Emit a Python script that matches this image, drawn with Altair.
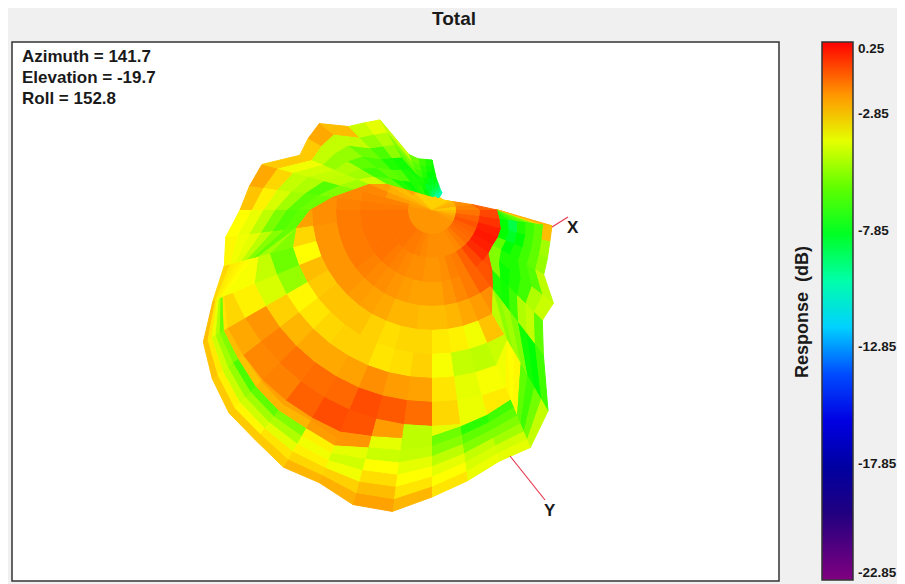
import math
import altair as alt

FONT = "Liberation Sans"
DB_DOMAIN = [-22.85, -19.0, -15.15, -11.3, -7.45, -3.6, 0.25]
COLOR_RANGE = ["#800080", "#000080", "#0000ff", "#00ffff", "#00ff00", "#ffff00", "#ff0000"]
LEGEND_TICKS = [0.25, -2.85, -7.85, -12.85, -17.85, -22.85]

POLE = (432, 210)
ANGLE_STEP = 7.5
RING_STEP = 24

# outer silhouette radius per 7.5 degree direction, clockwise from +x
OUTLINE = [66, 121, 122, 125, 129, 153, 156, 183, 232, 257, 260, 273, 287, 304, 305, 295,
           297, 290, 287, 277, 264, 237, 215, 208, 192, 184, 176, 143, 143, 142, 118, 110,
           104, 60, 53, 51, 50, 32, 26, 22, 20, 17, 15, 16, 18.5, 22, 28.5, 41]
# radius of the front lobe's edge per direction
RIM = [65, 68, 71, 71, 70, 71, 85, 100, 150, 205, 212, 218, 226, 230, 234, 247,
       243, 245, 242, 238, 236, 225, 180, 137, 122, 100, 80, 68, 52, 34, 26, 21,
       18, 16, 14.5, 13.5, 13, 13, 14, 13, 14, 15, 15, 16, 18.5, 22, 28.5, 41]

# front lobe: dB per sector, inner to outer ring
FRONT = [
    [-2.6, -1.5, -0.8],
    [-2.4, -1.2, -0.5],
    [-2.2, -1.0, -0.2],
    [-2.1, -1.2, -0.1],
    [-2.0, -1.3, -0.2],
    [-2.0, -1.4, -0.4, -0.9],
    [-2.0, -1.6, -0.8, -1.0],
    [-2.0, -1.8, -1.2, -1.2, -1.9, -4.6],
    [-2.0, -1.9, -1.6, -1.6, -2.1, -2.7, -4.4, -3.8, -3.5],
    [-2.0, -1.9, -1.7, -1.8, -2.3, -3.8, -4.6, -3.7, -3.3],
    [-2.0, -1.9, -1.9, -2.0, -2.5, -3.4, -4.5, -4.0, -3.9],
    [-2.0, -1.9, -2.0, -2.2, -2.6, -3.3, -3.7, -3.2, -3.0, -4.0],
    [-2.0, -1.9, -2.0, -2.2, -2.6, -3.0, -2.9, -2.2, -1.4, -4.6],
    [-2.0, -1.8, -1.9, -2.2, -2.5, -3.0, -3.1, -2.1, -1.1, -2.1],
    [-2.0, -1.7, -1.9, -2.1, -2.5, -3.1, -3.2, -1.9, -0.9, -1.0, -2.0],
    [-2.0, -1.6, -1.8, -2.0, -2.3, -2.9, -2.9, -2.2, -1.3, -0.9, -2.0],
    [-2.0, -1.6, -1.7, -1.9, -2.2, -2.7, -2.9, -2.3, -1.4, -1.2, -2.2],
    [-2.0, -1.5, -1.6, -1.8, -2.1, -2.7, -3.0, -2.3, -1.5, -1.7, -2.2],
    [-2.0, -1.5, -1.5, -1.7, -2.0, -2.7, -3.2, -2.5, -1.7, -1.8, -2.4],
    [-2.0, -1.5, -1.5, -1.6, -2.0, -2.8, -3.5, -2.9, -2.0, -2.3],
    [-2.0, -1.5, -1.5, -1.6, -2.0, -2.6, -5.2, -4.2, -3.4, -3.0],
    [-2.0, -1.5, -1.5, -1.6, -2.0, -3.6, -5.8, -4.5, -3.7, -3.7],
    [-2.0, -1.5, -1.5, -1.6, -2.0, -3.0, -5.5, -5.0],
    [-2.0, -1.5, -1.5, -1.6, -1.9, -2.2],
    [-2.0, -1.6, -1.6, -1.7, -1.9],
    [-2.1, -1.7, -1.7, -1.8],
    [-2.2, -2.1, -1.8],
    [-2.4, -2.4, -2.2],
    [-2.6, -2.6, -2.4],
    [-2.6, -2.3],
    [-2.9, -2.5],
    [-2.9], [-2.9], [-2.9], [-2.9], [-2.9], [-2.9], [-2.9], [-2.9], [-2.9],
    [-2.9], [-2.9], [-2.9], [-2.9],
    [-2.7, -2.3],
    [-2.5, -2.0],
    [-2.4, -1.9],
    [-2.8, -1.7, -1.2],
]

# back surface: dB per sector, from the lobe's edge out to the silhouette
BACK = [
    [-7.0, -6.5, -6.0, -5.5, -3.0, -2.4],
    [-7.5, -8.5, -7.0, -6.5, -6.0, -2.6],
    [-7.4, -8.0, -7.5, -6.5, -6.0, -5.0],
    [-6.0, -7.5, -7.0, -6.5, -6.0, -5.2],
    [-5.5, -7.0, -7.0, -6.5, -6.2, -4.6],
    [-5.5, -7.3, -7.0, -6.5, -4.8, -4.4],
    [-7.0, -7.2, -6.5, -4.8, -4.5, -6.0],
    [-5.3, -5.0, -5.5, -7.2, -7.5, -6.5],
    [-3.6, -3.5, -6.0, -6.5, -5.7, -4.5],
    [-6.5, -6.0, -5.5, -5.0, -4.3, -4.0],
    [-6.8, -6.0, -5.5, -4.5, -4.2, -3.9],
    [-5.8, -5.4, -4.6, -4.0, -3.6, -3.2],
    [-4.6, -4.5, -4.0, -3.6, -3.2, -2.5],
    [-4.0, -4.4, -3.6, -3.1, -2.6, -2.2],
    [-2.0, -4.0, -4.3, -3.8, -2.9, -2.4],
    [-2.1, -3.4, -3.8, -3.4, -3.0, -2.5],
    [-2.5, -5.5, -4.8, -4.0, -3.2, -2.8],
    [-2.5, -6.0, -5.0, -4.3, -3.5, -2.8],
    [-2.7, -6.3, -5.2, -4.4, -3.4, -2.8],
    [-2.6, -5.5, -5.0, -4.3, -3.3, -2.7],
    [-3.2, -5.8, -4.7, -3.9, -3.2, -2.6],
    [-3.7, -3.6, -3.5, -3.4, -3.3, -3.0],
    [-5.9, -5.4, -4.6, -4.0, -3.8, -3.5],
    [-6.0, -6.2, -5.6, -4.6, -3.9, -3.6],
    [-5.8, -6.0, -5.0, -4.2, -3.4, -2.7],
    [-5.5, -6.2, -4.8, -4.5, -3.0, -2.3],
    [-5.0, -4.6, -4.5, -4.3, -3.8, -2.8],
    [-4.3, -5.0, -4.8, -5.2, -4.5, -2.8],
    [-6.0, -6.5, -6.0, -5.2, -4.5, -2.3],
    [-7.0, -6.0, -6.3, -5.8, -4.5, -2.6],
    [-7.3, -6.2, -7.0, -6.3, -5.2, -4.4],
    [-7.0, -7.0, -7.2, -5.3, -4.7, -4.0],
    [-6.8, -7.0, -7.2, -6.0, -5.5, -4.5],
    [-7.5, -7.2, -7.0, -6.5, -6.2, -5.8],
    [-7.8, -8.0, -7.3, -7.0, -6.8, -6.5],
    [-8.5, -8.0, -7.8, -7.5, -7.2, -7.0],
    [-9.0, -8.5, -8.0, -7.8, -7.5, -7.3],
    [-9.5, -9.0, -8.8, -8.5, -8.2, -8.0],
    [-10.0, -9.8, -9.5, -9.0, -9.0, -9.0],
    [-10.0, -10.0, -10.0, -10.0, -10.0, -10.0],
]

INFO_LINES = ["Azimuth = 141.7", "Elevation = -19.7", "Roll = 152.8"]


def vertex(k, r):
    a = math.radians(k * ANGLE_STEP)
    return [POLE[0] - 8 + r * math.cos(a), POLE[1] - 8 + r * math.sin(a)]


def quad(k, ra0, ra1, rb0, rb1, db):
    ring = [vertex(k, ra0), vertex(k, ra1), vertex(k + 1, rb1), vertex(k + 1, rb0), vertex(k, ra0)]
    return {"type": "Feature", "properties": {"db": db}, "geometry": {"type": "Polygon", "coordinates": [ring]}}


n = len(OUTLINE)
cells = []
for k, vals in enumerate(BACK):
    a0, a1 = RIM[k], OUTLINE[k]
    b0, b1 = RIM[(k + 1) % n], OUTLINE[(k + 1) % n]
    for j, v in enumerate(vals):
        c = len(vals)
        cells.append(quad(k, a0 + (a1 - a0) * j / c, a0 + (a1 - a0) * (j + 1) / c,
                          b0 + (b1 - b0) * j / c, b0 + (b1 - b0) * (j + 1) / c, v))
for k, vals in enumerate(FRONT):
    a, b = RIM[k], RIM[(k + 1) % n]
    j = 0
    while j * RING_STEP < max(a, b):
        v = vals[min(j, len(vals) - 1)]
        cells.append(quad(k, min(j * RING_STEP, a), min((j + 1) * RING_STEP, a),
                          min(j * RING_STEP, b), min((j + 1) * RING_STEP, b), v))
        j += 1

one = alt.Data(values=[{"a": 1}])
color_scale = alt.Scale(domain=DB_DOMAIN, range=COLOR_RANGE, interpolate="rgb")
cell_data = alt.Data(values=cells)
colorbar = alt.Legend(type="gradient", orient="none", legendX=814, legendY=34, title=None, padding=0,
                      gradientLength=538, gradientThickness=31, values=LEGEND_TICKS,
                      labelExpr="replace(format(datum.value, '.2f'), '\u2212', '-')",
                      labelFont=FONT, labelFontWeight="bold", labelFontSize=13.5,
                      labelColor="#1a1a1a", labelOffset=5, labelOverlap=False,
                      gradientStrokeColor="#333333", gradientStrokeWidth=1.5)


def label(text, x, y, size, align="left", angle=None, baseline="middle"):
    kw = {"angle": angle} if angle is not None else {}
    return alt.Chart(one).mark_text(text=text, font=FONT, fontWeight="bold", fontSize=size, align=align,
                                    baseline=baseline, color="#1a1a1a", **kw).encode(
        x=alt.value(x - 8), y=alt.value(y - 8))


frame = alt.Chart(one).mark_rect(fill="white", stroke="#333333", strokeWidth=1.5).encode(
    x=alt.value(12 - 8), x2=alt.value(779 - 8), y=alt.value(42 - 8), y2=alt.value(581 - 8))

PROJ = dict(type="identity", scale=1, translate=[0, 0])
seams = alt.Chart(cell_data).mark_geoshape(filled=False, strokeWidth=1.0).encode(
    stroke=alt.Stroke(field="properties.db", type="quantitative", scale=color_scale, legend=None),
).project(**PROJ)
surface = alt.Chart(cell_data).mark_geoshape(stroke=None).encode(
    fill=alt.Fill(field="properties.db", type="quantitative", scale=color_scale, legend=colorbar),
).project(**PROJ)

axis_x = alt.Chart(one).mark_rule(color="#e63950", strokeWidth=1.2).encode(
    x=alt.value(552 - 8), x2=alt.value(568 - 8), y=alt.value(227 - 8), y2=alt.value(217 - 8))
axis_y = alt.Chart(one).mark_rule(color="#e63950", strokeWidth=1.2).encode(
    x=alt.value(510 - 8), x2=alt.value(545 - 8), y=alt.value(456 - 8), y2=alt.value(500 - 8))

chart = alt.layer(
    frame, seams, surface, axis_x, axis_y,
    label("X", 567, 228, 17), label("Y", 544, 511, 17),
    label(INFO_LINES[0], 22, 57, 17), label(INFO_LINES[1], 22, 78, 17), label(INFO_LINES[2], 22, 99, 17),
    label("Total", 454, 19, 19, align="center"),
    label("Response\u00a0\u00a0(dB)", 803, 312, 18, align="center", angle=270),
).resolve_scale(fill="independent", stroke="independent").properties(
    width=889, height=576, background="#f0f0f0", padding=0,
    autosize=alt.AutoSizeParams(type="none"),
).configure_view(stroke=None)

chart.save("out.html", embed_options={"renderer": "svg", "actions": False})
